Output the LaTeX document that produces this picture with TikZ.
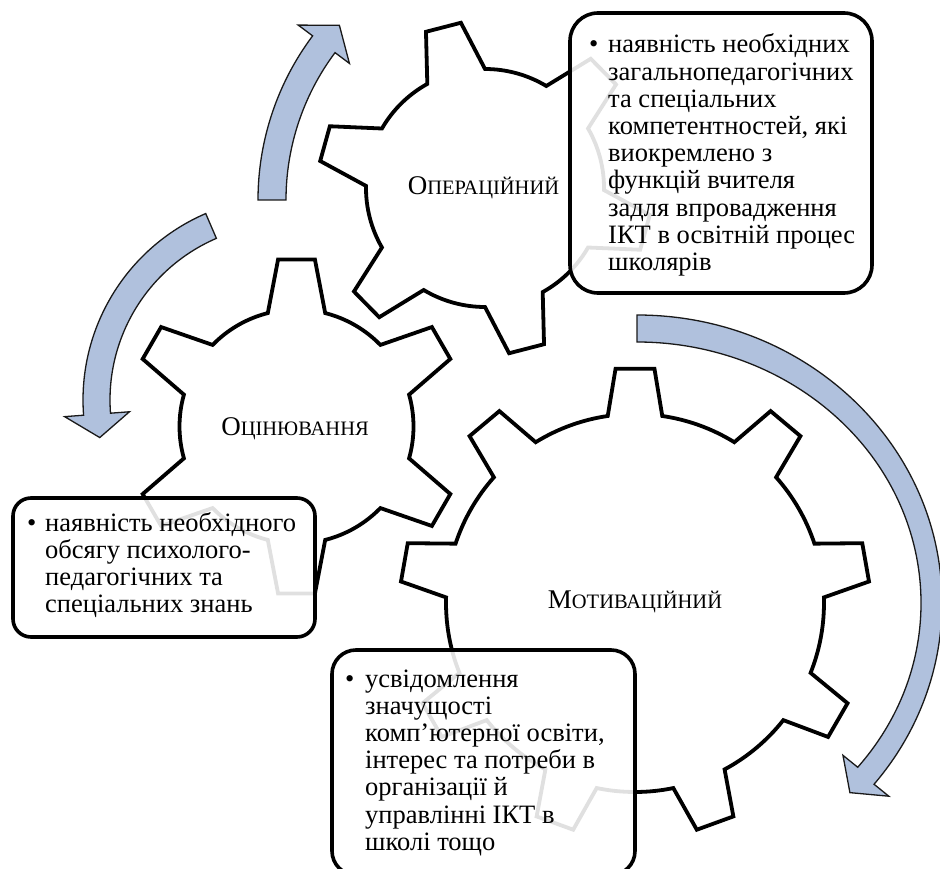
\documentclass[tikz,border=0pt]{standalone}
\usepackage{fontspec}
\setmainfont{Liberation Serif}
\usetikzlibrary{calc}
\definecolor{arrowfill}{RGB}{176,193,221}
\definecolor{arrowline}{RGB}{25,25,25}
\newcommand{\gearshape}[7]{%
  \pgfmathsetmacro{\gstep}{360/#2}%
  \draw[gearline] ($(#1)+({#3-#6}:#4pt)$)
    \foreach \k in {1,...,#2} {
      -- ($(#1)+({#3+(\k-1)*\gstep-#7}:#5pt)$)
      -- ($(#1)+({#3+(\k-1)*\gstep+#7}:#5pt)$)
      -- ($(#1)+({#3+(\k-1)*\gstep+#6}:#4pt)$)
      arc[start angle={#3+(\k-1)*\gstep+#6}, end angle={#3+\k*\gstep-#6}, radius=#4pt]
    } -- cycle;}
\newcommand{\boxlines}[1]{\vtop{\baselineskip=27.2pt\lineskiplimit=-100pt\lineskip=0pt #1}}
\newcommand{\bl}[1]{\hbox{#1}}
\begin{document}
\begin{tikzpicture}[x=1pt,y=-1pt,
  gearline/.style={draw=black, line width=3.8pt, line join=miter, fill=white},
  arrowshape/.style={draw=arrowline, line width=1.3pt, fill=arrowfill, line join=miter},
  infobox/.style={draw=black, line width=3.6pt, fill=white, fill opacity=0.88, draw opacity=1, text opacity=1, inner sep=0pt},
  boxtext/.style={inner sep=0pt, font=\fontsize{26.5}{27.2}\selectfont, text=black},
  gearlabel/.style={inner sep=0pt, text=black}]
\useasboundingbox (0,0) rectangle (940,869);
% gear centres
\coordinate (cO) at (485,188);
\coordinate (cL) at (296.5,426.5);
\coordinate (cM) at (635,603);
% gears
\gearshape{cO}{6}{104.5}{119}{167}{14.5}{6.2}
\gearshape{cL}{6}{90}{117}{168}{14.2}{6.3}
\gearshape{cM}{9}{90}{189}{235}{8.3}{4.75}
% gear labels
\node[gearlabel, anchor=base] (lO) at (483.5,195) {{\fontsize{27}{27}\selectfont О}{\fontsize{20.5}{20.5}\selectfont ПЕРАЦІЙНИЙ}};
\node[gearlabel, anchor=base] (lL) at (295,435) {{\fontsize{27}{27}\selectfont О}{\fontsize{20.5}{20.5}\selectfont ЦІНЮВАННЯ}};
\node[gearlabel, anchor=base] (lM) at (635,608) {{\fontsize{27}{27}\selectfont М}{\fontsize{20.5}{20.5}\selectfont ОТИВАЦІЙНИЙ}};
% arrows
\coordinate (a1) at (532,200);
\coordinate (a2) at (286,400);
\coordinate (a3) at (637,603);
\draw[arrowshape] ($(a1)+(180:274pt)$) arc[start angle=180, end angle=143.2, radius=274pt]
  -- ($(a1)+(143.2:292pt)$) -- ($(a1)+(137.8:260pt)$) -- ($(a1)+(143.2:228pt)$)
  -- ($(a1)+(143.2:246pt)$) arc[start angle=143.2, end angle=180, radius=246pt] -- cycle;
\draw[arrowshape] ($(a2)+(113.3:203pt)$) arc[start angle=113.3, end angle=184.3, radius=203pt]
  -- ($(a2)+(184.3:222pt)$) -- ($(a2)+(191.4:190pt)$) -- ($(a2)+(184.3:157pt)$)
  -- ($(a2)+(184.3:176pt)$) arc[start angle=184.3, end angle=113.3, radius=176pt] -- cycle;
\draw[arrowshape] ($(a3)+(90:305pt and 288pt)$) arc[start angle=90, end angle=-39, x radius=305pt, y radius=288pt]
  -- ($(a3)+(-39:324pt and 307pt)$) -- ($(a3)+(-43.7:294.5pt and 274.5pt)$) -- ($(a3)+(-39:265pt and 242pt)$)
  -- ($(a3)+(-39:284pt and 261pt)$) arc[start angle=-39, end angle=90, x radius=284pt, y radius=261pt] -- cycle;
% boxes
\node[infobox, rounded corners=28pt, minimum width=302pt, minimum height=280pt] (bO) at (721,153) {};
\node[infobox, rounded corners=18pt, minimum width=302pt, minimum height=139pt] (bL) at (164,567.5) {};
\node[infobox, rounded corners=24pt, minimum width=303pt, minimum height=225pt] (bM) at (483.5,762.5) {};
% box texts
\node[boxtext, anchor=base west] (uO) at (589,53) {\textbullet};
\node[boxtext, anchor=base west] (tO) at (608,53) {\boxlines{%
\bl{наявність необхідних}\bl{загальнопедагогічних}\bl{та спеціальних}\bl{компетентностей, які}%
\bl{виокремлено з}\bl{функцій вчителя}\bl{задля впровадження}\bl{ІКТ в освітній процес}\bl{школярів}}};
\node[boxtext, anchor=base west] (uL) at (27,531) {\textbullet};
\node[boxtext, anchor=base west] (tL) at (45,531) {\boxlines{%
\bl{наявність необхідного}\bl{обсягу психолого-}\bl{педагогічних та}\bl{спеціальних знань}}};
\node[boxtext, anchor=base west] (uM) at (345,687) {\textbullet};
\node[boxtext, anchor=base west] (tM) at (365,687) {\boxlines{%
\bl{усвідомлення}\bl{значущості}\bl{комп’ютерної освіти,}\bl{інтерес та потреби в}%
\bl{організації й}\bl{управлінні ІКТ в}\bl{школі тощо}}};
\end{tikzpicture}
\end{document}
